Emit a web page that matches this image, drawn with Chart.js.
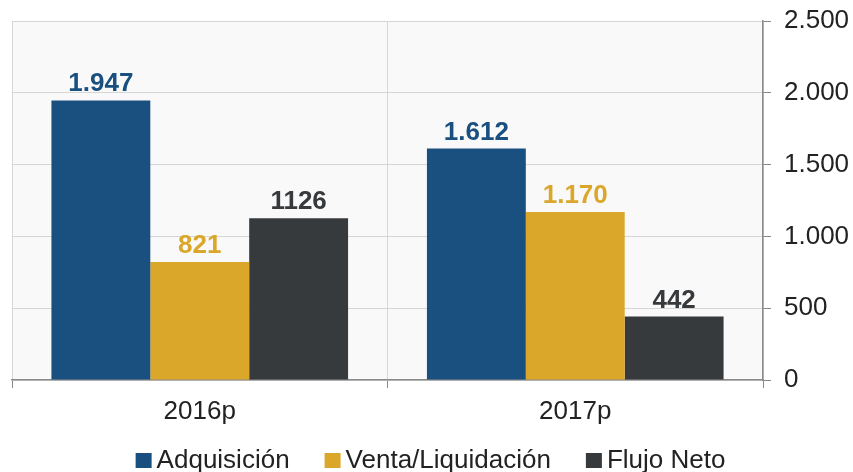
<!DOCTYPE html>
<html>
<head>
<meta charset="utf-8">
<script src="https://cdn.jsdelivr.net/npm/chart.js@4.4.0/dist/chart.umd.min.js"></script>
<style>
  html, body { margin: 0; padding: 0; background: #fff; }
  canvas { display: block; }
</style>
</head>
<body>
<canvas id="chart" width="853" height="472"></canvas>
<script>
const categories = ['2016p', '2017p'];
const seriesNames = ['Adquisición', 'Venta/Liquidación', 'Flujo Neto'];
const adquisicion = [1947, 1612];
const venta = [821, 1170];
const flujo = [1126, 442];
// etiquetas tal como aparecen en el gráfico
const adquisicionLabels = ['1.947', '1.612'];
const ventaLabels = ['821', '1.170'];
const flujoLabels = ['1126', '442'];
const yTicks = ['0', '500', '1.000', '1.500', '2.000', '2.500'];

const colors = ['#1a5080', '#dba72b', '#373a3d'];
const FONT = '"Liberation Sans", Arial, sans-serif';

// fondo gris claro del área de trazado
const plotBackground = {
    id: 'plotBackground',
    beforeDraw(chart) {
        const { ctx, chartArea: a } = chart;
        ctx.save();
        ctx.fillStyle = '#f9f9f9';
        ctx.fillRect(a.left, a.top, a.right - a.left, a.bottom - a.top);
        ctx.restore();
    }
};

// valores encima de cada barra
const barLabels = {
    id: 'barLabels',
    afterDatasetsDraw(chart) {
        const { ctx } = chart;
        ctx.save();
        ctx.font = 'bold 26px ' + FONT;
        ctx.textAlign = 'center';
        ctx.textBaseline = 'alphabetic';
        chart.data.datasets.forEach((ds, i) => {
            chart.getDatasetMeta(i).data.forEach((bar, j) => {
                ctx.fillStyle = ds.backgroundColor;
                ctx.fillText(ds.valueLabels[j], bar.x, bar.y - 9);
            });
        });
        ctx.restore();
    }
};

// leyenda inferior con cuadros pequeños
const bottomLegend = {
    id: 'bottomLegend',
    afterDraw(chart) {
        const { ctx } = chart;
        const box = 16, gap = 5, spacing = 35;
        ctx.save();
        ctx.font = '26px ' + FONT;
        const widths = chart.data.datasets.map(ds => box + gap + ctx.measureText(ds.label).width);
        const total = widths.reduce((s, w) => s + w, 0) + spacing * (widths.length - 1);
        let x = (chart.width - total) / 2 + 4;
        const y = 460;
        ctx.textBaseline = 'middle';
        ctx.textAlign = 'left';
        chart.data.datasets.forEach((ds, i) => {
            ctx.fillStyle = ds.backgroundColor;
            ctx.fillRect(x, y - 7, box, 15);
            ctx.fillStyle = '#222';
            ctx.fillText(ds.label, x + box + gap, y + 1);
            x += widths[i] + spacing;
        });
        ctx.restore();
    }
};

new Chart(document.getElementById('chart'), {
    type: 'bar',
    data: {
        labels: categories,
        datasets: [
            { label: seriesNames[0], data: adquisicion, valueLabels: adquisicionLabels, backgroundColor: colors[0] },
            { label: seriesNames[1], data: venta, valueLabels: ventaLabels, backgroundColor: colors[1] },
            { label: seriesNames[2], data: flujo, valueLabels: flujoLabels, backgroundColor: colors[2] }
        ]
    },
    options: {
        responsive: false,
        animation: false,
        layout: { padding: { left: 12, top: 21, right: 0, bottom: 0 } },
        datasets: { bar: { categoryPercentage: 0.79, barPercentage: 1.0 } },
        plugins: {
            legend: { display: false },
            tooltip: { enabled: false }
        },
        scales: {
            x: {
                grid: { offset: true, color: '#d6d6d6', tickColor: '#888', tickLength: 8 },
                border: { color: '#8a8a8a', width: 1.5 },
                ticks: { font: { family: FONT, size: 26 }, color: '#222', padding: 8 },
                afterFit(scale) { scale.height = 92; }
            },
            y: {
                position: 'right',
                min: 0,
                max: 2500,
                grid: { color: '#d6d6d6', tickColor: '#888', tickLength: 8 },
                border: { color: '#8a8a8a', width: 1.5 },
                ticks: {
                    stepSize: 500,
                    font: { family: FONT, size: 26 },
                    color: '#222',
                    padding: 13,
                    callback: (v, i) => yTicks[i]
                },
                afterFit(scale) {
                    scale.width = 90;
                    scale.paddingTop = 0;
                    scale.paddingBottom = 0;
                }
            }
        }
    },
    plugins: [plotBackground, barLabels, bottomLegend]
});
</script>
</body>
</html>
